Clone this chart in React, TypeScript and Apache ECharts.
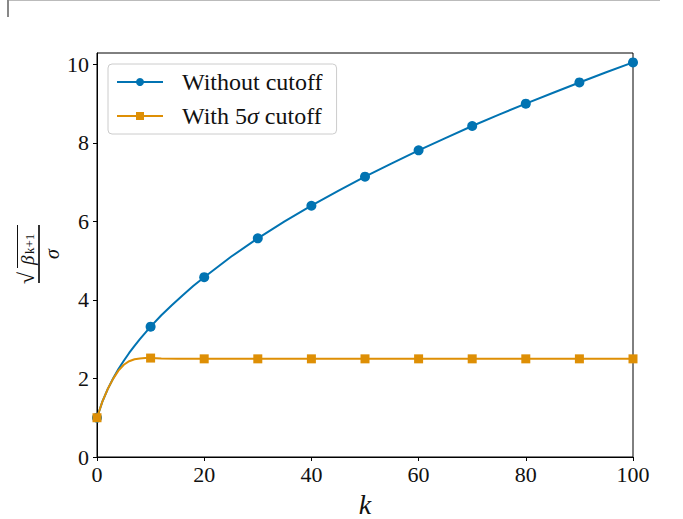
import React, { useEffect, useRef } from "react";
import * as echarts from "echarts";

const kBlue = [0, 1, 2, 3, 4, 5, 6, 7, 8, 9, 10, 12, 14, 16, 18, 20, 25, 30, 35, 40, 45, 50, 55, 60, 65, 70, 75, 80, 85, 90, 95, 100];
const valBlue = [1.0, 1.41, 1.73, 2.0, 2.24, 2.45, 2.65, 2.83, 3.0, 3.16, 3.32, 3.61, 3.87, 4.12, 4.36, 4.58, 5.1, 5.57, 6.0, 6.4, 6.78, 7.14, 7.48, 7.81, 8.12, 8.43, 8.72, 9.0, 9.27, 9.54, 9.8, 10.05];
const kOrange = [0, 1, 2, 3, 4, 5, 6, 7, 8, 9, 10, 12, 15, 20, 30, 40, 50, 60, 70, 80, 90, 100];
const valOrange = [1.0, 1.41, 1.73, 1.99, 2.2, 2.35, 2.44, 2.49, 2.51, 2.52, 2.52, 2.51, 2.5, 2.5, 2.5, 2.5, 2.5, 2.5, 2.5, 2.5, 2.5, 2.5];
const markerKs = [0, 10, 20, 30, 40, 50, 60, 70, 80, 90, 100];
const yTicks = [0, 2, 4, 6, 8, 10];
const seriesNames = ["Without cutoff", "With 5σ cutoff"];

const FONT = "Liberation Serif";

export default function App() {
  const ref = useRef<HTMLDivElement>(null);
  useEffect(() => {
    const chart = echarts.init(ref.current!, null, { renderer: "svg" });
    const isMarker = (v: any) => markerKs.indexOf(v[0]) >= 0;
    chart.setOption({
      animation: false,
      grid: {
        left: 97,
        right: 50,
        top: 53,
        bottom: 62,
        outerBoundsMode: "none",
        containLabel: false,
        show: true,
        borderColor: "#000",
        borderWidth: 1,
        backgroundColor: "transparent",
      },
      legend: {
        orient: "vertical",
        left: 108,
        top: 64,
        data: seriesNames,
        backgroundColor: "rgba(255,255,255,0.85)",
        borderColor: "#cccccc",
        borderWidth: 1,
        borderRadius: 4,
        padding: [6, 14, 6, 8],
        itemWidth: 46,
        itemHeight: 10,
        itemGap: 10,
        textStyle: {
          fontFamily: FONT,
          fontSize: 24,
          color: "#111",
          padding: [0, 0, 0, 14],
          rich: {
            i: { fontFamily: FONT, fontSize: 24, fontStyle: "italic", color: "#111" },
          },
        },
        formatter: (name: string) => (name.indexOf("σ") >= 0 ? "With 5{i|σ} cutoff" : name),
      },
      xAxis: {
        type: "value",
        min: 0,
        max: 100,
        interval: 20,
        splitLine: { show: false },
        axisLine: { show: true, onZero: false, lineStyle: { color: "#000", width: 1 } },
        axisTick: { show: true, length: 4, lineStyle: { color: "#000" } },
        axisLabel: { fontFamily: FONT, fontSize: 22, color: "#111", margin: 6 },
        name: "k",
        nameLocation: "middle",
        nameGap: 33,
        nameTextStyle: { fontFamily: FONT, fontSize: 28, fontStyle: "italic", color: "#111" },
      },
      yAxis: {
        type: "value",
        min: 0,
        max: 10.29,
        splitLine: { show: false },
        axisLine: { show: true, onZero: false, lineStyle: { color: "#000", width: 1 } },
        axisTick: { show: true, length: 4, lineStyle: { color: "#000" }, customValues: yTicks },
        axisLabel: { fontFamily: FONT, fontSize: 22, color: "#111", margin: 8, customValues: yTicks },
      },
      series: [
        {
          name: seriesNames[0],
          type: "line",
          data: kBlue.map((k, i) => [k, valBlue[i]]),
          color: "#0173b2",
          lineStyle: { width: 2, color: "#0173b2" },
          symbol: "circle",
          symbolSize: (v: any) => (isMarker(v) ? 10 : 0),
          showAllSymbol: true,
          itemStyle: { color: "#0173b2" },
          clip: false,
          z: 3,
        },
        {
          name: seriesNames[1],
          type: "line",
          data: kOrange.map((k, i) => [k, valOrange[i]]),
          color: "#de8f05",
          lineStyle: { width: 2, color: "#de8f05" },
          symbol: "rect",
          symbolSize: (v: any) => (isMarker(v) ? 9 : 0),
          showAllSymbol: true,
          itemStyle: { color: "#de8f05" },
          clip: false,
          z: 4,
        },
      ],
      graphic: [
        { type: "line", shape: { x1: 8, y1: 0.5, x2: 660, y2: 0.5 }, style: { stroke: "#bbbbbb", lineWidth: 1 } },
        { type: "line", shape: { x1: 8, y1: 0, x2: 8, y2: 17 }, style: { stroke: "#888888", lineWidth: 2 } },
        {
          type: "group",
          x: 39,
          y: 254,
          rotation: Math.PI / 2,
          children: [
            { type: "line", shape: { x1: -29, y1: 0, x2: 29, y2: 0 }, style: { stroke: "#000", lineWidth: 1.6 } },
            {
              type: "text",
              x: -30,
              y: -2,
              style: { text: "√", font: `22px "${FONT}"`, fill: "#111", align: "left", verticalAlign: "bottom" },
            },
            { type: "line", shape: { x1: -14, y1: -21.5, x2: 29, y2: -21.5 }, style: { stroke: "#111", lineWidth: 1 } },
            {
              type: "text",
              x: -11,
              y: -2,
              style: { text: "β", font: `italic 19px "${FONT}"`, fill: "#111", align: "left", verticalAlign: "bottom" },
            },
            {
              type: "text",
              x: 0,
              y: -3,
              style: { text: "k+1", font: `13px "${FONT}"`, fill: "#111", align: "left", verticalAlign: "bottom" },
            },
            {
              type: "text",
              x: 0,
              y: 3,
              style: { text: "σ", font: `italic 20px "${FONT}"`, fill: "#111", align: "center", verticalAlign: "top" },
            },
          ],
        },
      ],
    });
    return () => chart.dispose();
  }, []);
  return <div ref={ref} style={{ position: "absolute", left: 0, top: 0, width: 683, height: 519 }} />;
}
